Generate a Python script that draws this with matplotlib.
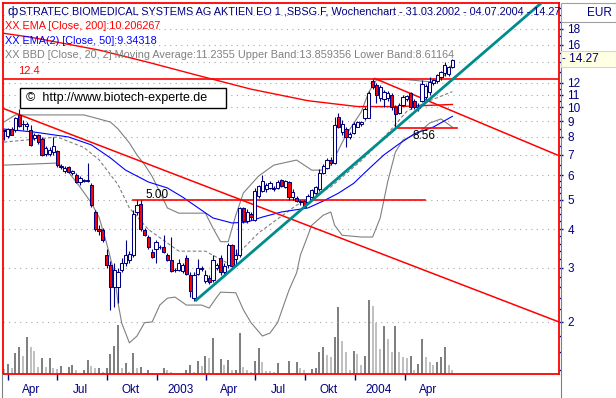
import numpy as np
import matplotlib
matplotlib.use("Agg")
import matplotlib.pyplot as plt
from matplotlib.patches import Rectangle
from matplotlib.lines import Line2D
from matplotlib.ticker import FixedLocator, FuncFormatter, NullFormatter

plt.rcParams['font.family'] = ['Liberation Sans', 'DejaVu Sans']

# ---------------- data (weekly candles, 31.03.2002 - 04.07.2004) ----------------
opens = [8.35, 8.05, 8.50, 8.40, 9.40, 8.80, 8.70, 8.45, 7.95, 8.10,
         7.90, 7.05, 7.05, 7.15, 7.20, 6.45, 6.20, 6.40, 6.10, 6.00,
         5.72, 5.78, 5.75, 5.58, 4.55, 4.00, 3.98, 3.30, 3.06, 2.60,
         2.60, 2.95, 3.12, 3.18, 3.30, 4.55, 4.85, 3.98, 3.78, 3.38,
         3.46, 3.50, 3.50, 3.30, 3.18, 2.95, 2.95, 2.92, 3.22, 2.84,
         2.40, 2.86, 2.97, 2.72, 2.78, 2.74, 2.99, 3.22, 2.90, 3.06,
         3.55, 3.20, 3.30, 4.70, 4.25, 4.50, 4.30, 5.15, 5.35, 5.40,
         5.45, 5.45, 5.45, 5.79, 5.50, 5.70, 5.10, 5.05, 4.95, 4.95,
         4.90, 5.10, 5.25, 5.40, 6.10, 6.35, 6.75, 6.60, 9.30, 8.30,
         8.50, 8.00, 8.25, 8.65, 8.80, 9.20, 9.25, 12.20, 11.80, 10.70,
         10.60, 10.70, 11.00, 10.00, 9.60, 10.20, 10.60, 11.10, 10.50, 10.05,
         10.50, 10.80, 11.20, 12.00, 12.20, 12.50, 12.95, 12.80, 13.55]
highs = [8.45, 8.55, 8.60, 9.30, 9.85, 9.10, 8.95, 8.75, 8.25, 8.20,
         8.00, 7.45, 7.40, 8.00, 7.25, 6.55, 6.45, 6.45, 6.25, 6.10,
         5.95, 5.85, 6.60, 5.65, 4.62, 4.15, 4.05, 3.45, 3.15, 3.10,
         3.00, 3.23, 3.69, 3.40, 4.62, 4.98, 4.98, 4.05, 3.85, 3.45,
         3.70, 3.55, 3.83, 3.35, 3.78, 3.00, 3.20, 3.10, 3.30, 2.90,
         2.90, 3.20, 3.05, 2.95, 2.85, 3.30, 3.10, 3.30, 3.10, 3.62,
         3.60, 3.45, 4.75, 4.75, 4.65, 4.55, 5.45, 5.60, 6.00, 5.65,
         5.75, 5.55, 5.80, 5.85, 5.80, 5.75, 5.40, 5.15, 5.00, 5.00,
         5.20, 5.40, 5.55, 6.30, 6.55, 6.85, 6.90, 9.30, 9.60, 9.10,
         8.60, 8.30, 8.95, 9.05, 9.00, 10.00, 11.30, 12.40, 12.00, 11.80,
         11.40, 11.30, 11.10, 10.20, 10.30, 11.00, 11.00, 11.20, 10.60, 10.30,
         12.30, 11.90, 12.50, 12.40, 12.80, 13.10, 14.00, 13.60, 14.40]
lows = [7.85, 7.95, 8.10, 8.30, 8.60, 8.40, 8.45, 7.45, 7.85, 7.60,
        6.95, 6.95, 6.95, 7.00, 6.40, 6.30, 6.10, 6.10, 6.00, 5.65,
        5.60, 5.70, 5.70, 4.75, 3.95, 3.85, 3.65, 3.00, 2.19, 2.24,
        2.30, 2.90, 3.05, 3.10, 3.25, 4.45, 3.95, 3.80, 3.45, 3.22,
        3.10, 3.45, 3.35, 3.15, 2.90, 2.90, 2.92, 2.88, 2.84, 2.42,
        2.34, 2.84, 2.92, 2.68, 2.66, 2.70, 2.95, 2.85, 2.85, 3.00,
        3.00, 3.05, 3.25, 4.20, 4.20, 4.30, 4.25, 5.05, 5.30, 5.30,
        5.40, 5.35, 5.40, 5.50, 5.45, 5.00, 5.00, 4.90, 4.80, 4.70,
        4.85, 5.05, 5.20, 5.35, 6.05, 6.30, 6.50, 6.55, 8.55, 8.10,
        7.40, 7.90, 8.20, 8.60, 8.70, 9.10, 9.20, 11.50, 10.30, 10.50,
        10.00, 10.50, 9.80, 8.56, 9.50, 10.10, 10.50, 9.90, 9.90, 9.70,
        10.40, 10.60, 11.00, 11.80, 12.00, 12.30, 12.60, 12.60, 13.40]
closes = [8.40, 8.50, 8.15, 9.20, 8.70, 8.85, 8.85, 7.55, 8.10, 7.70,
          7.00, 7.35, 7.25, 7.50, 6.50, 6.40, 6.35, 6.15, 6.20, 5.72,
          5.90, 5.75, 5.78, 4.82, 4.00, 3.95, 3.70, 3.06, 2.60, 2.95,
          2.90, 3.12, 3.30, 3.33, 4.50, 4.80, 4.00, 3.85, 3.50, 3.26,
          3.64, 3.52, 3.38, 3.18, 2.92, 2.95, 3.10, 3.06, 2.86, 2.52,
          2.84, 3.00, 3.00, 2.84, 2.70, 3.18, 3.06, 2.90, 3.04, 3.55,
          3.05, 3.30, 4.70, 4.25, 4.55, 4.40, 5.35, 5.55, 5.75, 5.60,
          5.68, 5.42, 5.70, 5.55, 5.75, 5.10, 5.30, 4.95, 4.90, 4.75,
          5.15, 5.37, 5.50, 6.10, 6.45, 6.75, 6.60, 8.75, 8.65, 8.80,
          8.00, 8.20, 8.85, 8.95, 8.95, 9.90, 11.10, 11.60, 10.95, 11.60,
          11.20, 11.10, 10.00, 9.50, 10.20, 10.80, 10.85, 10.00, 10.00, 9.95,
          11.90, 11.70, 12.10, 12.25, 12.70, 13.00, 13.70, 13.50, 14.27]
# weekly volume (arbitrary units)
volume = [5, 10, 6, 21, 27, 18, 37, 27, 23, 7,
          16, 7, 16, 6, 5, 8, 0.5, 7, 9, 4,
          1, 4, 14, 8, 6, 6.5, 2, 6, 20, 28,
          49, 6, 11, 2, 21, 6, 7, 1, 4, 1,
          0.5, 0.4, 6, 4, 2, 0.4, 0.3, 0.3, 4, 9,
          2, 13, 8, 18, 16, 36, 1, 15, 9, 14,
          4, 4.5, 41, 7, 4, 2, 13, 26, 12, 3,
          2.8, 2, 11, 1, 0.3, 13, 0.3, 12, 6, 4,
          0.3, 5, 6, 22, 27, 19, 17, 37, 67, 33,
          22, 4, 23, 20, 9, 18, 74, 68, 51, 25,
          48, 35, 22, 48, 22, 17, 16, 18, 4, 10,
          35, 17, 12, 9, 12, 17, 27, 9, 4]

# indicator lines (week index, value)
ema200_idx = [0, 7, 25, 38, 52, 65, 80, 93, 104, 118]
ema200_val = [17.4, 16.9, 15.35, 14.0, 12.6, 11.45, 10.5, 10.05, 10.05, 10.21]
ema50_idx = [0, 8, 17, 23, 28, 32, 38, 43, 47, 52, 55, 60, 64, 68, 73, 80,
             84, 88, 92, 96, 100, 104, 108, 113, 118]
ema50_val = [8.49, 8.30, 8.00, 7.54, 6.84, 6.24, 5.71, 5.46, 5.10, 4.62, 4.36,
             4.20, 4.23, 4.39, 4.56, 4.70, 4.95, 5.25, 5.65, 6.30, 7.00, 7.60,
             8.20, 8.62, 9.34]
bb_up_idx = [0, 3, 21, 23, 28, 30, 33, 35, 37, 39, 41, 43, 46, 53, 55, 57, 59,
             61, 63, 67, 71, 77, 79, 81, 84, 86, 90, 94, 96, 98, 104, 113, 116, 118]
bb_up_val = [8.95, 9.44, 9.44, 9.30, 8.95, 8.50, 7.65, 6.99, 6.50, 5.95, 5.30,
             4.70, 4.52, 4.52, 4.04, 3.65, 3.65, 4.45, 5.26, 5.97, 6.48, 6.73,
             6.48, 6.24, 6.24, 6.48, 8.12, 9.65, 11.21, 12.26, 12.35, 12.08,
             12.73, 13.86]
bb_lo_idx = [0, 14, 17, 20, 23, 25, 27, 29, 30, 31, 33, 35, 37, 39, 41, 43, 45,
             48, 52, 54, 56, 57, 61, 63, 65, 68, 70, 72, 75, 77, 78, 81, 84, 86,
             87, 89, 94, 97, 99, 101, 103, 105, 109, 112, 115, 118]
bb_lo_val = [6.48, 6.58, 6.15, 5.50, 4.88, 4.39, 3.61, 2.89, 2.31, 1.98, 1.71,
             1.80, 1.99, 2.00, 2.27, 2.39, 2.41, 2.27, 2.27, 2.22, 2.41, 2.50,
             2.49, 2.19, 1.99, 1.80, 1.84, 1.99, 2.54, 2.89, 3.30, 4.13, 4.45,
             4.56, 4.13, 3.83, 3.78, 3.78, 4.36, 5.74, 7.15, 7.82, 8.24, 8.88,
             9.16, 8.61]
bb_mid_idx = [0, 14, 21, 25, 30, 33, 38, 46, 53, 59, 67, 77, 86, 94, 98, 102,
              106, 112, 118]
bb_mid_val = [7.7, 8.0, 7.4, 6.75, 5.6, 4.7, 4.0, 3.4, 3.4, 3.1, 3.9, 4.8, 5.5,
              6.7, 7.5, 8.5, 9.7, 10.5, 11.24]

# drawn trend / support lines: (start idx, start price, end idx, end price)
trend_up = (50.3, 2.34, 142.6, 22.5)
trend_down1 = (-1.05, 10.0, 146.05, 2.0)
trend_down2 = (97.6, 12.4, 145.6, 6.99)
level_124 = 12.4
level_500 = (33.9, 110.8, 5.00)
level_856 = (103.7, 119.3, 8.56)

tick_dates_idx = [1.0, 14.0, 27.14, 40.29, 53.14, 66.14, 79.29, 92.43, 105.43]
x_labels = ['Apr', 'Jul', 'Okt', '2003', 'Apr', 'Jul', 'Okt', '2004', 'Apr']
y_ticks = [2, 3, 4, 5, 6, 7, 8, 9, 10, 11, 12, 14, 16, 18, 20]

# ---------------- figure ----------------
W, H = 616, 398
fig = plt.figure(figsize=(W / 100, H / 100), dpi=100)
fig.patch.set_facecolor('white')

def fx(px):
    return px / W

def fy(py):
    return 1 - py / H

NAVY = '#000080'
RED = '#FF0000'
rect = [fx(3), fy(374), (559 - 3) / W, (374 - 3) / H]
axv = fig.add_axes(rect, zorder=0)
ax = fig.add_axes(rect, zorder=1)
ax.patch.set_visible(False)

XMIN, XMAX = -0.26, 146.05
n = len(closes)
x = np.arange(n)

# volume
vol = np.array(volume, dtype=float)
vcol = ['#C0C0C0'] + ['#808080' if vol[i] > vol[i - 1] else '#C0C0C0' for i in range(1, n)]
axv.bar(x, vol, width=0.55, color=vcol, linewidth=0)
axv.set_xlim(XMIN, XMAX)
axv.set_ylim(0, 371)
axv.axis('off')

ax.set_yscale('log')
ax.set_xlim(XMIN, XMAX)
ax.set_ylim(1.354, 21.84)

# grid
ax.yaxis.set_major_locator(FixedLocator(y_ticks))
ax.yaxis.set_major_formatter(FuncFormatter(lambda v, p: '' if v in (14, 20) else f'{v:g}'))
minor = [1.4, 1.6, 1.8, 2.2, 2.4, 2.6, 2.8, 3.2, 3.4, 3.6, 3.8, 4.25, 4.5, 4.75,
         5.25, 5.5, 5.75, 6.5, 7.5, 8.5, 9.5, 10.5, 11.5, 13, 15, 17, 19, 21]
ax.yaxis.set_minor_locator(FixedLocator(minor))
ax.yaxis.set_minor_formatter(NullFormatter())
ax.yaxis.tick_right()
ax.grid(True, axis='y', which='major', color='#A8A8A8', linestyle=(0, (1, 4)), linewidth=0.8)
ax.tick_params(axis='y', which='major', direction='out', length=3, width=1,
               color=NAVY, pad=3, labelsize=8.5, labelcolor=NAVY)
ax.tick_params(axis='y', which='minor', direction='out', length=1.2, width=1, color=NAVY)

ax.set_xticks(tick_dates_idx)
ax.set_xticklabels([''] * len(tick_dates_idx))
ax.set_xticks([t + 6.2 for t in tick_dates_idx], minor=True)
ax.set_xticklabels(x_labels, minor=True)
ax.tick_params(axis='x', which='major', direction='out', length=4.5, width=1, color=NAVY)
ax.tick_params(axis='x', which='minor', length=0, pad=7.5, labelsize=8.5, labelcolor=NAVY)

for s in ax.spines.values():
    s.set_color(RED)
    s.set_linewidth(1.3)

# bollinger bands & emas
ax.plot(bb_up_idx, bb_up_val, color='#808080', lw=0.8, zorder=2)
ax.plot(bb_lo_idx, bb_lo_val, color='#808080', lw=0.8, zorder=2)
ax.plot(bb_mid_idx, bb_mid_val, color='#808080', lw=0.8, ls=(0, (3, 2)), zorder=2)
ax.plot(ema200_idx, ema200_val, color=RED, lw=1.0, zorder=3)
ax.plot(ema50_idx, ema50_val, color='#0000FF', lw=0.8, zorder=3)

# drawn lines
ax.axhline(level_124, color=RED, lw=1.2, zorder=3)
ax.plot([level_500[0], level_500[1]], [level_500[2]] * 2, color=RED, lw=1.2, zorder=3)
ax.plot([level_856[0], level_856[1]], [level_856[2]] * 2, color=RED, lw=1.2, zorder=3)
for tl in (trend_down1, trend_down2):
    ax.plot([tl[0], tl[2]], [tl[1], tl[3]], color=RED, lw=1.1, zorder=3)

# candles
o = np.array(opens); h = np.array(highs); l = np.array(lows); c = np.array(closes)
up = c >= o
blo = np.minimum(o, c)
bhi = np.maximum(o, c)
ax.vlines(x, l, h, color=NAVY, lw=0.8, zorder=4)
ax.bar(x, np.maximum(bhi - blo, blo * 0.004), bottom=blo, width=0.8,
       color=np.where(up, 'white', RED), edgecolor=NAVY, linewidth=0.75, zorder=5)

ax.plot([trend_up[0], trend_up[2]], [trend_up[1], trend_up[3]], color='#008C8C',
        lw=2.0, zorder=6, solid_capstyle='butt')

# ---------------- texts ----------------
def ftext(px, py, s, **kw):
    fig.text(fx(px), fy(py), s, va='center', **kw)

TS = 7.8
ftext(7, 12, 'ф', color=NAVY, fontsize=9, zorder=10)
ftext(19, 12, 'STRATEC BIOMEDICAL SYSTEMS AG AKTIEN EO 1 ,SBSG.F, Wochenchart - 31.03.2002 - 04.07.2004 - 14.27',
      color=NAVY, fontsize=TS)
ftext(5, 26, 'XX EMA [Close, 200]:10.206267', color=RED, fontsize=TS)
ftext(5, 41, 'XX EMA(2) [Close, 50]:9.34318', color='#0000FF', fontsize=TS)
ftext(5, 55.5, 'XX BBD [Close, 20, 2] Moving Average:11.2355 Upper Band:13.859356 Lower Band:8.61164',
      color='#808080', fontsize=TS)
ftext(18, 71.5, '12.4', color=RED, fontsize=8)
ftext(157, 195, '5.00', color='black', fontsize=8.5, ha='center')
ftext(424, 136, '8.56', color='black', fontsize=8.5, ha='center')

fig.add_artist(Rectangle((fx(20), fy(108)), (226 - 20) / W, (108 - 88) / H,
                         transform=fig.transFigure, facecolor='white',
                         edgecolor='black', lw=1, zorder=8))
ftext(26, 98.5, '©  http://www.biotech-experte.de', color='black', fontsize=9, zorder=9)

# right side boxes
fig.add_artist(Rectangle((fx(560.5), fy(22)), (615.5 - 560.5) / W, (22 - 3) / H,
                         transform=fig.transFigure, facecolor='white',
                         edgecolor='#A0A0A0', lw=0.8, zorder=8))
ftext(612, 12.5, 'EUR', color=NAVY, fontsize=8.5, ha='right', zorder=9)
fig.add_artist(Rectangle((fx(561), fy(67)), (615.5 - 561) / W, (67 - 51) / H,
                         transform=fig.transFigure, facecolor='#FFFFE4',
                         edgecolor='#D8D8C0', lw=0.8, zorder=8))
ftext(562, 59, '- 14.27', color=NAVY, fontsize=8.5, zorder=9)

# frame lines
fig.add_artist(Line2D([fx(2.5), fx(2.5)], [fy(374), fy(398)], transform=fig.transFigure,
                      color='#808080', lw=0.8))
fig.add_artist(Line2D([fx(560.5), fx(560.5)], [fy(22), fy(398)], transform=fig.transFigure,
                      color='#808080', lw=0.8))

fig.savefig('out.png', dpi=100)
